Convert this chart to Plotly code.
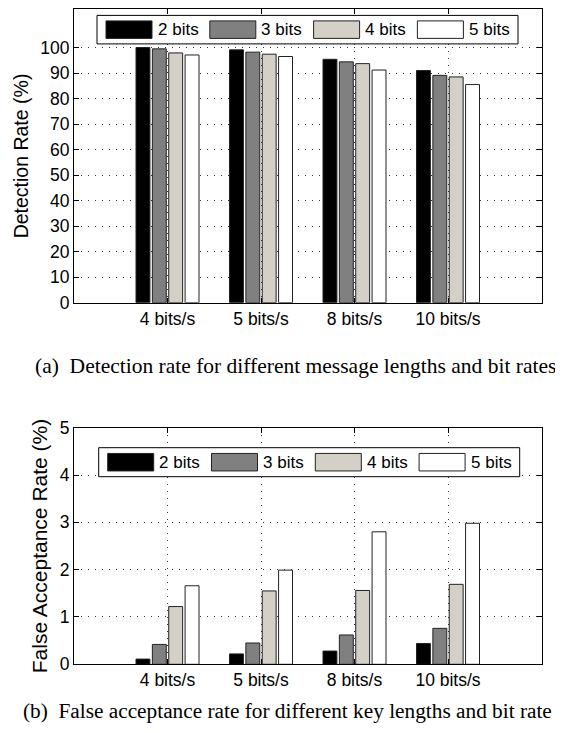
import plotly.graph_objects as go

# ---- data ----
categories = ["4 bits/s", "5 bits/s", "8 bits/s", "10 bits/s"]
series_names = ["2 bits", "3 bits", "4 bits", "5 bits"]

detection_2bits = [100.0, 99.1, 95.4, 91.0]
detection_3bits = [99.5, 98.2, 94.4, 89.1]
detection_4bits = [97.9, 97.4, 93.7, 88.5]
detection_5bits = [97.1, 96.5, 91.2, 85.5]

far_2bits = [0.11, 0.22, 0.28, 0.44]
far_3bits = [0.42, 0.45, 0.62, 0.76]
far_4bits = [1.22, 1.55, 1.56, 1.69]
far_5bits = [1.66, 1.99, 2.80, 2.98]

det_ticks = [0, 10, 20, 30, 40, 50, 60, 70, 80, 90, 100]
far_ticks = [0, 1, 2, 3, 4, 5]

colors = ["#000000", "#808080", "#d4d0c8", "#ffffff"]

SANS = "Liberation Sans, Arial, sans-serif"
SERIF = "Liberation Serif, Times New Roman, serif"

# the page keeps the browser's default 8px body margin, so the figure is
# 16px smaller than the window and all layout positions are offset by 8px
W, H = 547, 717


def fx(px):
    return px / W


def fy(py):
    return 1 - py / H


fig = go.Figure()

det = [detection_2bits, detection_3bits, detection_4bits, detection_5bits]
far = [far_2bits, far_3bits, far_4bits, far_5bits]

for name, vals, c in zip(series_names, det, colors):
    fig.add_trace(go.Bar(x=categories, y=vals, name=name, xaxis="x", yaxis="y",
                         marker=dict(color=c, line=dict(color="#222222", width=1)),
                         showlegend=False))
for name, vals, c in zip(series_names, far, colors):
    fig.add_trace(go.Bar(x=categories, y=vals, name=name, xaxis="x2", yaxis="y2",
                         marker=dict(color=c, line=dict(color="#222222", width=1)),
                         showlegend=False))

x_dom = [fx(66), fx(533.5)]
top_dom = [fy(294.7), fy(1.3)]
bot_dom = [fy(656.3), fy(419.7)]

grid = dict(showgrid=True, gridcolor="#333333", gridwidth=1, griddash="1px,6px")
axis_common = dict(showline=True, linecolor="black", linewidth=1, mirror="ticks",
                   ticks="inside", ticklen=5, tickcolor="black", automargin=True,
                   tickfont=dict(family=SANS, size=17.5, color="black"), **grid)

# ---- legend boxes (MATLAB style: wide patches inside a framed box) ----
shapes = []
annotations = []


def add_legend(left, top, box_w=421, box_h=28.5, pad=9, patch_w=46, patch_h=17.5,
               step=103.8, text_gap=3.5):
    shapes.append(dict(type="rect", xref="paper", yref="paper",
                       x0=fx(left), x1=fx(left + box_w), y0=fy(top), y1=fy(top + box_h),
                       fillcolor="white", line=dict(color="black", width=1), layer="above"))
    cy = top + box_h / 2
    for i, (name, c) in enumerate(zip(series_names, colors)):
        x0 = left + pad + i * step
        shapes.append(dict(type="rect", xref="paper", yref="paper",
                           x0=fx(x0), x1=fx(x0 + patch_w),
                           y0=fy(cy - patch_h / 2), y1=fy(cy + patch_h / 2),
                           fillcolor=c, line=dict(color="#222222", width=1), layer="above"))
        annotations.append(dict(text=name, xref="paper", yref="paper",
                                x=fx(x0 + patch_w + text_gap), y=fy(cy),
                                xanchor="left", yanchor="middle", showarrow=False,
                                font=dict(family=SANS, size=17, color="black")))


add_legend(89, 7.4)
add_legend(90.7, 439.7, box_h=29)

annotations += [
    dict(text="(a)  Detection rate for different message lengths and bit rates",
         xref="paper", yref="paper", x=fx(25), y=fy(358),
         xanchor="left", yanchor="middle", showarrow=False,
         font=dict(family=SERIF, size=21.5, color="black")),
    dict(text="(b)  False acceptance rate for different key lengths and bit rate",
         xref="paper", yref="paper", x=fx(13), y=0,
         xanchor="left", yanchor="bottom", showarrow=False,
         font=dict(family=SERIF, size=21.3, color="black")),
]

fig.update_layout(
    width=W, height=H, autosize=False,
    margin=dict(l=0, r=0, t=0, b=0, autoexpand=False),
    paper_bgcolor="white", plot_bgcolor="white",
    barmode="group", bargap=0.3, bargroupgap=0.15,
    showlegend=False,
    xaxis=dict(domain=x_dom, anchor="y", type="category", range=[-1, 4],
               categoryorder="array", categoryarray=categories, **axis_common),
    yaxis=dict(domain=top_dom, anchor="x", range=[0, 115], tickvals=det_ticks,
               title=dict(text="Detection Rate (%)", font=dict(family=SANS, size=19.5, color="black"), standoff=6),
               zeroline=False, **axis_common),
    xaxis2=dict(domain=x_dom, anchor="y2", type="category", range=[-1, 4],
                categoryorder="array", categoryarray=categories, **axis_common),
    yaxis2=dict(domain=bot_dom, anchor="x2", range=[0, 5], tickvals=far_ticks,
                title=dict(text="False Acceptance Rate (%)", font=dict(family=SANS, size=21, color="black"), standoff=6),
                zeroline=False, **axis_common),
    shapes=shapes,
    annotations=annotations,
)

fig.write_html("out.html", config={"displayModeBar": False, "responsive": False})
